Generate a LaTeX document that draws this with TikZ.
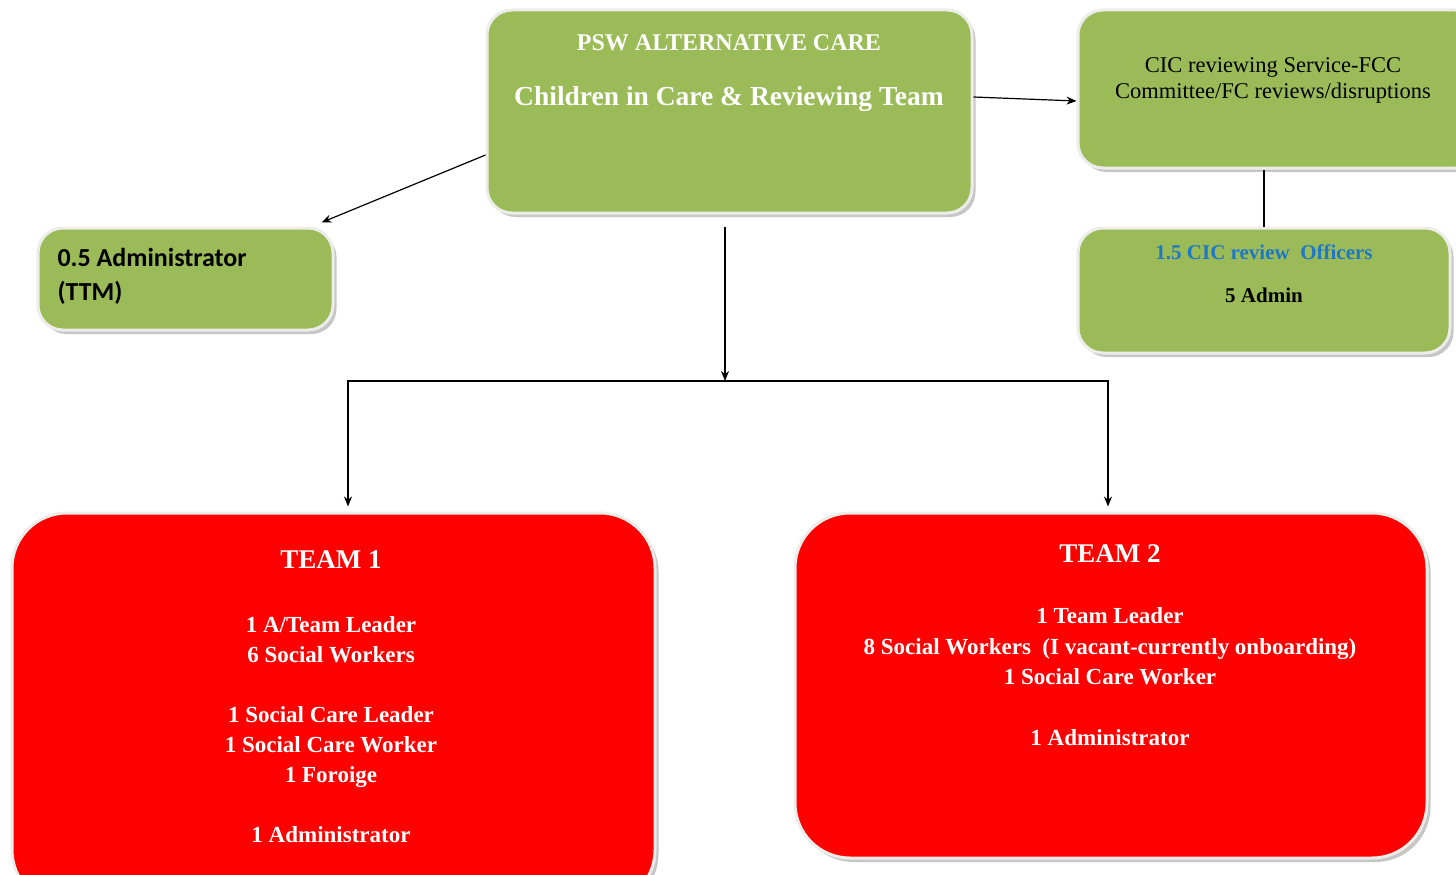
\documentclass[tikz,border=0pt]{standalone}
\usepackage{fontspec}
\setmainfont{Liberation Serif}
\newfontfamily\calfont{Carlito}
\usetikzlibrary{arrows.meta,shadows}
\definecolor{boxgreen}{RGB}{155,187,89}
\definecolor{boxred}{RGB}{255,0,0}
\definecolor{cicblue}{RGB}{31,119,200}
\definecolor{rim}{RGB}{236,236,232}

\begin{document}
\begin{tikzpicture}[x=1pt, y=-1pt,
    box/.style={draw=rim, line width=3pt, inner sep=0pt,
        drop shadow={shadow xshift=3.5pt, shadow yshift=-4pt, opacity=0.45}},
    greenbox/.style={box, fill=boxgreen, rounded corners=25pt},
    redbox/.style={box, fill=boxred, rounded corners=55pt},
    link/.style={-{Stealth[length=10pt, width=8pt]}, line width=1.2pt}]
    \useasboundingbox (0,0) rectangle (1456,875);

    % Create boxes
    \node[greenbox, minimum width=485pt, minimum height=203pt] (top) at (729.5,111.5) {};
    \node[greenbox, minimum width=402pt, minimum height=158pt] (cicrev) at (1279,89) {};
    \node[greenbox, minimum width=372pt, minimum height=125pt] (officers) at (1264,290.5) {};
    \node[greenbox, minimum width=295pt, minimum height=102pt] (admin) at (185.5,279) {};
    \node[redbox, minimum width=643pt, minimum height=392pt] (team1) at (333.5,709) {};
    \node[redbox, minimum width=632pt, minimum height=345pt] (team2) at (1111,685.5) {};

    % Box texts (multi-line nodes sit on their last baseline)
    \node[anchor=base, white, font=\bfseries\fontsize{24}{28}\selectfont] (topA) at (729,51) {PSW ALTERNATIVE CARE};
    \node[anchor=base, white, font=\bfseries\fontsize{27.5}{32}\selectfont] (topB) at (729,105) {Children in Care \& Reviewing Team};
    \node[anchor=base, align=center, font=\fontsize{22.5}{26}\selectfont] (cicT) at (1273,98)
        {CIC reviewing Service-FCC\\Committee/FC reviews/disruptions};
    \node[anchor=base, text=cicblue, font=\bfseries\fontsize{21}{25}\selectfont] (offA) at (1264,259) {1.5 CIC review\ \ Officers};
    \node[anchor=base, font=\bfseries\fontsize{21}{25}\selectfont] (offB) at (1264,302) {5 Admin};
    \node[anchor=base west, align=left, font=\calfont\bfseries\fontsize{26}{34}\selectfont] (adminT) at (54,300)
        {0.5 Administrator\\(TTM)};
    \node[anchor=base, white, font=\bfseries\fontsize{27}{32}\selectfont] (t1head) at (331,568) {TEAM 1};
    \node[anchor=base, white, align=center, font=\bfseries\fontsize{23}{30}\selectfont] (t1body) at (331,842)
        {1 A/Team Leader\\6 Social Workers\\~\\1 Social Care Leader\\1 Social Care Worker\\1 Foroige\\~\\1 Administrator};
    \node[anchor=base, white, font=\bfseries\fontsize{27}{32}\selectfont] (t2head) at (1110,562) {TEAM 2};
    \node[anchor=base, white, align=center, font=\bfseries\fontsize{23}{30.3}\selectfont] (t2body) at (1110,745)
        {1 Team Leader\\8 Social Workers\ \ (I vacant-currently onboarding)\\1 Social Care Worker\\~\\1 Administrator};

    % Connectors
    \coordinate (drop) at (725,227);
    \coordinate (bus) at (725,381);
    \draw[link] ([yshift=14.5pt]top.east) -- ([yshift=-12pt]cicrev.west);
    \draw[link] ([yshift=-43.5pt]top.west) -- ([xshift=-13pt, yshift=4pt]admin.north east);
    \draw[line width=1.2pt] (officers.north) -- (officers.north |- cicrev.south);
    \draw[link] (drop) -- (bus);
    \draw[link] (bus) -| ([xshift=14.5pt, yshift=5pt]team1.north);
    \draw[link] (bus) -| ([xshift=-3pt, yshift=5pt]team2.north);
\end{tikzpicture}
\end{document}
